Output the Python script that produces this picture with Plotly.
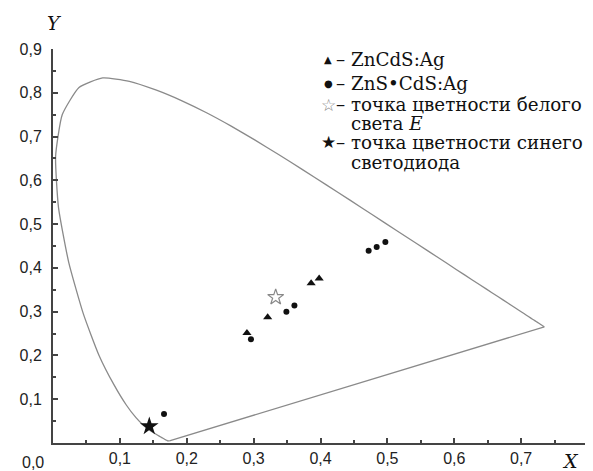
import plotly.graph_objects as go

# CIE 1931 spectral locus (x, y), 380-700 nm
locus_x = [0.1741, 0.1740, 0.1738, 0.1736, 0.1733, 0.1730, 0.1726, 0.1721, 0.1714, 0.1703,
           0.1689, 0.1669, 0.1644, 0.1611, 0.1566, 0.1510, 0.1440, 0.1355, 0.1241, 0.1096,
           0.0913, 0.0687, 0.0454, 0.0235, 0.0082, 0.0039, 0.0139, 0.0389, 0.0743, 0.1142,
           0.1547, 0.1929, 0.2296, 0.2658, 0.3016, 0.3373, 0.3731, 0.4087, 0.4441, 0.4788,
           0.5125, 0.5448, 0.5752, 0.6029, 0.6270, 0.6482, 0.6658, 0.6801, 0.6915, 0.7006,
           0.7079, 0.7140, 0.7190, 0.7230, 0.7260, 0.7283, 0.7300, 0.7311, 0.7320, 0.7334,
           0.7344, 0.7347]
locus_y = [0.0050, 0.0050, 0.0049, 0.0049, 0.0048, 0.0048, 0.0048, 0.0048, 0.0051, 0.0058,
           0.0069, 0.0086, 0.0109, 0.0138, 0.0177, 0.0227, 0.0297, 0.0399, 0.0578, 0.0868,
           0.1327, 0.2007, 0.2950, 0.4127, 0.5384, 0.6548, 0.7502, 0.8120, 0.8338, 0.8262,
           0.8059, 0.7816, 0.7543, 0.7243, 0.6923, 0.6589, 0.6245, 0.5896, 0.5547, 0.5202,
           0.4866, 0.4544, 0.4242, 0.3965, 0.3725, 0.3514, 0.3340, 0.3197, 0.3083, 0.2993,
           0.2920, 0.2859, 0.2809, 0.2770, 0.2740, 0.2717, 0.2700, 0.2689, 0.2680, 0.2666,
           0.2656, 0.2653]

# ZnCdS:Ag (triangles)
zncds_x = [0.290, 0.321, 0.386, 0.398]
zncds_y = [0.251, 0.287, 0.365, 0.376]

# ZnS•CdS:Ag (circles)
zns_x = [0.166, 0.296, 0.349, 0.361, 0.472, 0.484, 0.497]
zns_y = [0.066, 0.237, 0.300, 0.314, 0.439, 0.448, 0.459]

# White point E
white_x = [0.333]
white_y = [0.333]

# Blue LED
led_x = [0.144]
led_y = [0.038]

x_ticks = [0.1, 0.2, 0.3, 0.4, 0.5, 0.6, 0.7, 0.8]
x_labels = ["0,1", "0,2", "0,3", "0,4", "0,5", "0,6", "0,7", ""]
y_ticks = [0.1, 0.2, 0.3, 0.4, 0.5, 0.6, 0.7, 0.8, 0.9]
y_labels = ["0,1", "0,2", "0,3", "0,4", "0,5", "0,6", "0,7", "0,8", "0,9"]

legend_symbols = ["\u25B2", "\u25CF", "\u2606", "\u2605"]
legend_symbol_colors = ["#111", "#111", "#888", "#111"]
legend_symbol_sizes = [10, 10, 17, 17]
legend_lines = [["ZnCdS:Ag"],
                ["ZnS\u2022CdS:Ag"],
                ["точка цветности белого", "света <i>E</i>"],
                ["точка цветности синего", "светодиода"]]

tick_font = dict(family="Liberation Sans, Arial, sans-serif", size=16, color="#222")
legend_font = dict(family="DejaVu Serif, serif", size=18.3, color="#111")

fig = go.Figure()
fig.add_trace(go.Scatter(x=locus_x, y=locus_y, mode="lines",
                         line=dict(color="#8a8a8a", width=1.3, shape="spline", smoothing=0.5),
                         showlegend=False, hoverinfo="skip"))
fig.add_trace(go.Scatter(x=[locus_x[-1], locus_x[0]], y=[locus_y[-1], locus_y[0]], mode="lines",
                         line=dict(color="#8a8a8a", width=1.3),
                         showlegend=False, hoverinfo="skip"))
fig.add_trace(go.Scatter(x=zncds_x, y=zncds_y, mode="markers", name="ZnCdS:Ag",
                         marker=dict(symbol="triangle-up", size=8, color="#111")))
fig.add_trace(go.Scatter(x=zns_x, y=zns_y, mode="markers", name="ZnS\u2022CdS:Ag",
                         marker=dict(symbol="circle", size=6, color="#111")))
fig.add_trace(go.Scatter(x=white_x, y=white_y, mode="markers", name="E",
                         marker=dict(symbol="star-open", size=12, color="#888",
                                     line=dict(width=1.2, color="#888"))))
fig.add_trace(go.Scatter(x=led_x, y=led_y, mode="markers", name="LED",
                         marker=dict(symbol="star", size=14, color="#111")))

axis_common = dict(showline=True, linecolor="#444", linewidth=2, ticks="inside",
                   tickcolor="#444", tickwidth=2, ticklen=5, showgrid=False,
                   zeroline=False, tickmode="array", tickfont=tick_font)

fig.update_xaxes(range=[0, 0.8], tickvals=x_ticks, ticktext=x_labels,
                 minor=dict(dtick=0.05, tick0=0, ticks="inside", ticklen=3,
                            tickcolor="#444", tickwidth=2),
                 **axis_common)
fig.update_yaxes(range=[0, 0.9], tickvals=y_ticks, ticktext=y_labels,
                 ticklabelstandoff=6,
                 minor=dict(dtick=0.05, tick0=0, ticks="inside", ticklen=3,
                            tickcolor="#444", tickwidth=2),
                 **axis_common)

fig.add_annotation(x=0, y=0, xref="x", yref="y", text="0,0", showarrow=False,
                   xshift=-20, yshift=-19, font=tick_font)
fig.add_annotation(x=0.8, y=0, xref="x", yref="y", text="<i>X</i>", showarrow=False,
                   xshift=-18, yshift=-18, height=22,
                   font=dict(family="DejaVu Serif, serif", size=19, color="#111"))
fig.add_annotation(x=0, y=0.9, xref="x", yref="y", text="<i>Y</i>", showarrow=False,
                   xshift=1, yshift=26,
                   font=dict(family="DejaVu Serif, serif", size=19, color="#111"))

# Legend drawn as text lines (paper coordinates)
row_y = [0.9726, 0.9127, 0.8579, 0.8105, 0.7631, 0.7107]
row = 0
for sym, col, sz, lines in zip(legend_symbols, legend_symbol_colors, legend_symbol_sizes, legend_lines):
    fig.add_annotation(x=0.5148, y=row_y[row], xref="paper", yref="paper", text=sym,
                       showarrow=False, xanchor="center", yanchor="middle", borderpad=0,
                       font=dict(family="DejaVu Sans, sans-serif", size=sz, color=col))
    for i, ln in enumerate(lines):
        txt = "\u2013 " + ln if i == 0 else ln
        fig.add_annotation(x=0.5278 if i == 0 else 0.5556, y=row_y[row], xref="paper", yref="paper",
                           text=txt, showarrow=False, xanchor="left", yanchor="middle",
                           borderpad=0, font=legend_font)
        row += 1

fig.update_layout(
    width=593, height=471,
    margin=dict(l=40, r=13, t=41, b=29),
    paper_bgcolor="white", plot_bgcolor="white",
    showlegend=False,
)

fig.write_html("out.html")
